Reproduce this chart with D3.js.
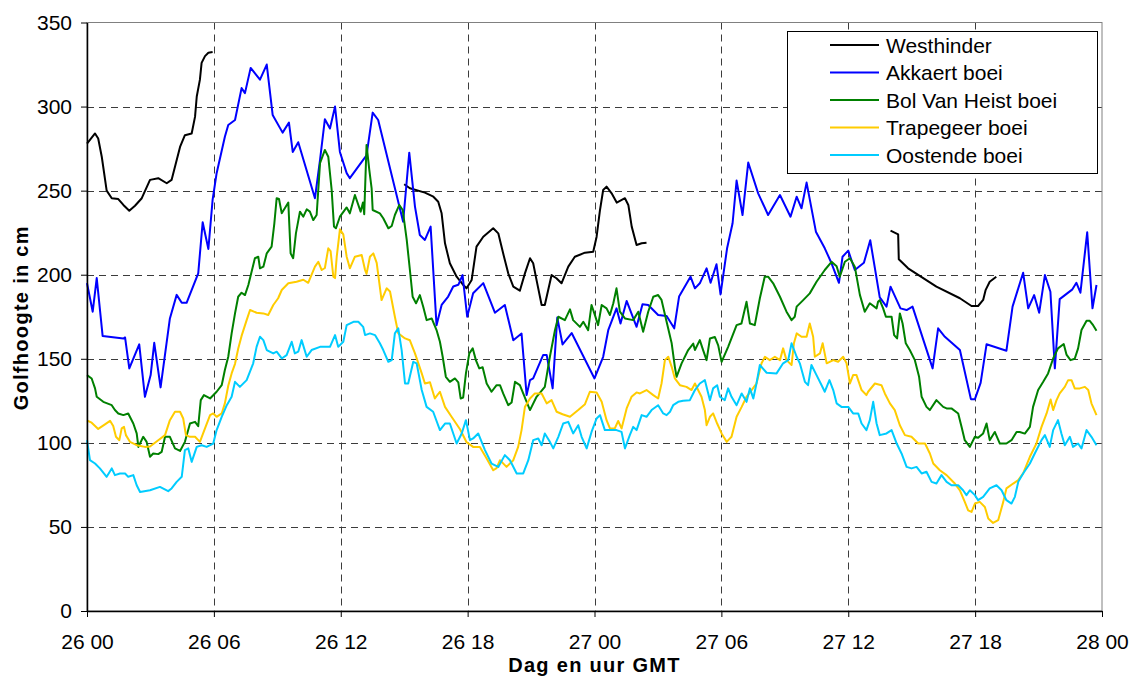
<!DOCTYPE html>
<html>
<head>
<meta charset="utf-8">
<script src="https://cdn.jsdelivr.net/npm/d3@7"></script>
<style>
  body { margin: 0; background: #fff; }
  svg { display: block; font-family: "Liberation Sans", Arial, sans-serif; }
</style>
</head>
<body>
<svg id="chart"></svg>
<script>
// x values are hours since 26 00 GMT, y values wave height in cm (null = no data)
const hourTicks = [0, 6, 12, 18, 24, 30, 36, 42, 48];
const hourLabels = ['26 00', '26 06', '26 12', '26 18', '27 00', '27 06', '27 12', '27 18', '28 00'];
const heightTicks = [0, 50, 100, 150, 200, 250, 300, 350];
const seriesNames = ['Westhinder', 'Akkaert boei', 'Bol Van Heist boei', 'Trapegeer boei', 'Oostende boei'];
const seriesColors = ['#000000', '#0000ff', '#008000', '#ffcc00', '#00ccff'];

const westhinder = [
  [0,278],[0.38,284],[0.53,281],[0.7,270],[0.93,250],[1.17,245.5],[1.48,245],[1.72,241.5],[2,238],
  [2.27,241],[2.59,245.5],[2.98,256.4],[3.37,257.4],[3.77,254.4],[4,256.4],[4.4,276],[4.63,283],
  [4.95,284],[5.11,294],[5.19,306],[5.34,316],[5.42,326],[5.58,330],[5.74,332],[5.94,332.4],
  [10,null],
  [15,253.8],[15.27,251.4],[15.98,248.8],[16.38,246.4],[16.61,243.4],[16.77,236.5],[16.93,218.7],
  [17.16,206.8],[17.48,198.8],[17.79,193.9],[17.95,191.9],[18.19,196.8],[18.42,216.7],[18.74,222.6],
  [19.21,227.6],[19.45,224.6],[19.68,212.7],[19.92,200.8],[20.16,192.9],[20.47,190.5],[20.71,200.8],
  [20.95,209.8],[21.1,206.8],[21.26,196.8],[21.5,182],[21.65,182],[21.97,199.8],[22.2,197.9],
  [22.44,194.9],[22.76,204.8],[23.07,210.7],[23.55,213.1],[23.94,213.7],[24.1,222.6],[24.26,238.5],
  [24.41,250.4],[24.57,252.4],[24.81,248.4],[25.05,242.9],[25.44,245.5],[25.6,241.5],[25.76,228.6],
  [25.99,217.7],[26.23,218.7],[26.46,219],
  [30,null],
  [38,226.2],[38.36,224],[38.39,209.2],[38.83,203.8],[40.17,192.9],[41.28,186],[41.83,181.4],
  [42.14,181.4],[42.38,185],[42.5,191],[42.69,195.8],[43,198.8]
];

const akkaert = [
  [0,195],[0.27,178],[0.46,198],[0.74,163.5],[1.72,162],[1.8,162.7],[2,144.3],[2.47,158.6],[2.74,127.4],
  [3.01,140.3],[3.18,159.5],[3.48,133],[3.92,174],[4.24,188],[4.48,183.3],[4.71,183.3],[5.26,200.8],
  [5.47,231.2],[5.74,215.3],[5.94,244.5],[6.13,260.4],[6.52,282],[6.68,289],[7,292],[7.31,311],
  [7.47,308],[7.74,323],[8.18,316],[8.5,325],[8.78,295],[9.25,284.5],[9.55,290.5],[9.73,273],
  [9.99,278.8],[10.78,245.5],[11.02,268.3],[11.25,292.5],[11.49,287],[11.73,300],[11.96,273],
  [12.28,260.4],[12.43,257.4],[13.06,268.3],[13.22,271],[13.51,296.4],[13.77,292],[14.95,231.5],
  [15.24,272.6],[15.51,240.5],[15.74,223.6],[15.98,220.7],[16.25,228.6],[16.53,170],[16.77,182],
  [17.08,187],[17.32,193],[17.56,194],[17.76,199.8],[17.98,175],[18.26,189],[18.74,195],[19.29,177.4],
  [19.76,182],[20.16,161],[20.55,165],[20.79,128.4],[20.95,137.3],[21.1,138.3],[21.57,152.2],
  [21.74,152.2],[22.02,132.4],[22.24,174.5],[22.49,158.5],[22.92,165.3],[24,138.3],[24.41,151.2],
  [24.65,167],[25.04,180],[25.23,171],[25.52,184.4],[25.99,169],[26.27,182.5],[26.54,182],[27.01,176],
  [27.41,175.5],[27.77,168.1],[28,187],[28.54,198.8],[28.75,191.9],[28.98,194.9],[29.3,203.8],
  [29.49,195.2],[29.77,206.2],[29.96,188.3],[30.27,215.7],[30.53,230.6],[30.72,256],[31,235.5],
  [31.27,266.7],[31.74,248.4],[32.21,235.5],[32.77,247.4],[33.27,234.5],[33.56,246.4],[33.79,239.5],
  [34.03,254.8],[34.47,225.6],[34.89,215.7],[35.21,206.8],[35.56,195.2],[35.73,210.7],[36,214.3],
  [36.31,202.8],[36.74,207.1],[37.04,220.5],[37.49,186.5],[37.81,181],[38,192.9],[38.47,180],
  [38.76,179],[39.04,181],[39.99,144.3],[40.25,168.1],[40.57,163.1],[41.28,155.2],[41.8,126],
  [41.99,126],[42.26,135.7],[42.54,158.6],[43.48,154.8],[43.77,181],[44.27,201.2],[44.51,180],
  [44.79,187.9],[45.03,177.4],[45.3,199.8],[45.56,189.9],[45.77,144.3],[46,185.5],[46.6,191.3],
  [46.79,195.2],[46.98,189.3],[47.3,225.2],[47.55,180],[47.74,193.9]
];

const bolVanHeist = [
  [0,140.3],[0.22,138.3],[0.38,132.4],[0.46,127.4],[0.77,124.4],[1.17,122.4],[1.32,119.5],[1.48,117.5],
  [1.72,116.5],[1.95,117.5],[2.19,111.5],[2.35,105.6],[2.43,97.6],[2.66,103.6],[2.82,100.6],[2.98,91.7],
  [3.13,93.7],[3.37,93.3],[3.53,94.6],[3.69,103.6],[3.92,103.6],[4.16,96.7],[4.4,95.2],[4.63,100.6],
  [4.87,111.5],[5.11,112.5],[5.26,109.9],[5.38,125.4],[5.53,128.4],[5.82,126.4],[6.13,130.4],
  [6.37,134.3],[6.52,143.3],[6.68,151.2],[6.84,165.1],[7,177],[7.15,186.9],[7.31,189.3],[7.47,187.9],
  [7.63,193.9],[7.94,209.8],[8.1,210.7],[8.18,203.8],[8.34,204.8],[8.5,212.7],[8.73,216.7],
  [8.86,230.6],[8.97,245.5],[9.08,245],[9.21,236.5],[9.52,242.9],[9.63,212.7],[9.75,209.8],
  [9.88,224.6],[10.07,237.5],[10.23,234.5],[10.39,238.9],[10.54,237.5],[10.7,232.5],[10.86,235.5],
  [11.02,266.3],[11.25,274.2],[11.41,270.2],[11.57,250.4],[11.68,228.6],[11.77,227.6],[11.96,234.5],
  [12.28,240],[12.43,236.5],[12.67,247.4],[12.94,237.5],[13.05,243],[13.11,236],[13.22,277.2],
  [13.35,262.3],[13.46,251.4],[13.51,238.5],[13.85,236.5],[14.01,233.6],[14.25,227.6],[14.41,229],
  [14.56,235.5],[14.77,241.5],[14.93,238.5],[15.12,220.7],[15.27,202.8],[15.4,186.9],[15.56,183],
  [15.74,187.9],[15.9,181],[16.06,173],[16.3,174],[16.53,167.1],[16.69,160.1],[16.82,151.2],
  [16.97,139.3],[17.16,136.3],[17.4,138.3],[17.56,136],[17.67,126.4],[17.79,127],[17.92,141.3],
  [18.08,153.2],[18.24,156.2],[18.39,149.2],[18.55,144.3],[18.71,145],[18.9,135.3],[19.13,130.4],
  [19.37,134.3],[19.53,134.3],[19.68,129.4],[19.92,122.4],[20.08,124],[20.24,136.3],[20.47,134.3],
  [20.95,119.5],[21.26,127.4],[21.65,133.3],[21.89,151.2],[22.13,167],[22.29,175],[22.6,173],
  [22.84,179.4],[22.99,173],[23.31,169],[23.47,172],[23.7,167],[23.86,182],[24.02,176],[24.17,170],
  [24.34,182],[24.57,180],[24.73,176],[24.89,183],[25.04,191.9],[25.2,178],[25.44,174],[25.83,173],
  [26.07,178],[26.3,166.1],[26.54,178],[26.78,186.9],[27.01,187.9],[27.17,185],[27.41,172],
  [27.65,159.2],[27.8,145.2],[27.88,139.3],[28.12,147.3],[28.43,155.2],[28.67,159],[28.75,155.2],
  [28.98,161.1],[29.14,155],[29.3,149.2],[29.46,162.1],[29.69,163],[29.85,158],[30.01,148.2],
  [30.32,157.1],[30.72,170],[30.95,171],[31.19,183.9],[31.35,171],[31.58,170],[31.82,186],
  [32.05,198.8],[32.21,198.8],[32.45,194.9],[32.77,186.9],[33.08,178],[33.32,173],[33.47,175],
  [33.56,181],[33.87,184.9],[34.18,188.9],[34.5,195.8],[34.89,202.8],[35.21,207.7],[35.45,205],
  [35.6,198.8],[35.84,207.7],[36.08,209.8],[36.31,204.8],[36.55,188],[36.78,178],[37.02,183],
  [37.34,180],[37.41,183.9],[37.49,184.9],[37.65,180],[37.78,175],[38.05,175],[38.17,164.1],
  [38.31,162.1],[38.44,177],[38.57,171],[38.72,159.2],[38.91,155.2],[39.15,149.2],[39.35,139.3],
  [39.47,127.4],[39.7,121.4],[39.86,119.5],[40.17,125.4],[40.49,121.4],[40.65,120.5],[40.88,120.5],
  [41.2,117.5],[41.36,109.5],[41.51,101.6],[41.75,97.6],[41.99,103.6],[42.14,103],[42.38,105.6],
  [42.54,111.5],[42.69,101.6],[42.93,106.5],[43.17,99.6],[43.48,99.6],[43.72,101.6],[43.96,106.5],
  [44.11,106.5],[44.35,105.5],[44.59,109.5],[44.74,121.4],[44.98,131.4],[45.22,136.3],[45.45,141.3],
  [45.69,150.2],[45.92,156.2],[46.19,158.8],[46.32,152.5],[46.51,149.2],[46.71,150],[46.87,156.2],
  [47.03,167.1],[47.27,172.6],[47.42,172.6],[47.58,170],[47.74,166.7]
];

const trapegeer = [
  [0,113.3],[0.22,112],[0.53,108.3],[0.85,111],[1.09,113.1],[1.24,110],[1.37,103.6],[1.53,101.6],
  [1.64,108.6],[1.75,109.5],[1.84,104.6],[2.03,100.6],[2.35,98.6],[2.74,97.6],[2.98,97.8],[3.37,101.6],
  [3.69,104.6],[3.92,113.5],[4.16,118.5],[4.4,118.5],[4.55,114.5],[4.68,104.6],[4.87,103.6],
  [5.11,103.6],[5.34,100.6],[5.58,108.6],[5.82,116.5],[5.97,117.5],[6.13,115.5],[6.37,117.5],
  [6.52,123.5],[6.68,134],[6.84,141.3],[7,147],[7.15,156],[7.31,163.6],[7.55,173],[7.71,179],
  [8.02,177.4],[8.34,177],[8.57,176],[8.81,182],[9.04,186],[9.21,190.9],[9.52,194.9],[9.91,195.8],
  [10.23,197],[10.46,195.2],[10.78,204.8],[10.94,207.7],[11.1,202.8],[11.25,204],[11.41,215.7],
  [11.52,214],[11.65,198.8],[11.73,198],[11.81,210.7],[11.96,227],[12.12,224],[12.28,210.7],
  [12.43,203.8],[12.67,210.7],[12.99,211.7],[13.15,202.8],[13.22,200.5],[13.38,210.7],[13.54,212.7],
  [13.7,207],[13.93,184.9],[14.17,191.9],[14.33,190],[14.56,175],[14.72,165.1],[15.04,162.1],
  [15.27,161],[15.51,153.2],[15.83,141.3],[15.98,135.3],[16.22,136],[16.45,126.4],[16.69,130.4],
  [16.93,121.4],[17.24,115.5],[17.64,108.1],[17.95,100.4],[18.26,97.6],[18.58,97.6],[18.9,90.7],
  [19.21,83.7],[19.37,85],[19.53,89.7],[19.84,85.7],[20.16,89.7],[20.39,97.6],[20.55,107.6],
  [20.71,121.4],[20.95,126.4],[21.18,129.4],[21.5,129.4],[21.74,123.5],[21.97,125.4],[22.21,118.5],
  [22.49,117],[22.84,115.5],[23.23,119.5],[23.55,123],[23.78,130.4],[24.1,130],[24.34,124.4],
  [24.57,113.5],[24.73,108.6],[24.96,108.6],[25.12,113],[25.28,108.6],[25.52,120.5],[25.75,127.4],
  [25.99,130],[26.15,129.4],[26.46,131.4],[26.78,128.4],[27.01,126.4],[27.17,135.3],[27.33,149.2],
  [27.49,151.2],[27.65,145.2],[27.8,138.3],[28.04,134.3],[28.35,133.3],[28.59,131.4],[28.75,135.3],
  [28.9,131.4],[29.06,127.4],[29.22,119.5],[29.3,110.5],[29.46,115.5],[29.61,117.5],[29.8,111.5],
  [30.01,105.6],[30.25,100.6],[30.48,103.6],[30.72,115.5],[30.96,121.4],[31.19,127.4],[31.43,131.4],
  [31.66,135.3],[31.9,147.3],[32.06,151.2],[32.29,149.2],[32.53,151.2],[32.77,149.2],[32.92,156.2],
  [33.08,149.2],[33.32,146.3],[33.43,159.2],[33.56,165.1],[33.79,163.1],[34.03,163.1],[34.18,171],
  [34.34,163.1],[34.42,151.2],[34.66,153.2],[34.79,159.2],[34.98,147.3],[35.29,149.2],[35.52,148.2],
  [35.76,151.2],[35.92,147.3],[36.08,135.3],[36.23,140.3],[36.39,140.3],[36.63,131.4],[36.86,128.4],
  [36.94,130.4],[37.26,135.3],[37.57,134.3],[37.73,129.4],[37.97,123.5],[38.2,119.5],[38.44,110.5],
  [38.68,104.6],[38.99,103.6],[39.31,99.6],[39.63,99.6],[39.86,93.7],[40.02,87.7],[40.33,83.7],
  [40.65,80.8],[41.04,75.8],[41.28,71.8],[41.51,64.9],[41.67,59.9],[41.83,58.9],[41.99,63.9],
  [42.22,64.9],[42.46,61.9],[42.62,55],[42.85,52.4],[43.09,54],[43.33,64.9],[43.48,72.9],[43.8,75.8],
  [44.04,77.8],[44.27,81.8],[44.59,91.7],[44.9,99.6],[45.14,109.5],[45.38,117.5],[45.57,125.8],
  [45.69,119.5],[45.85,125.4],[46,129.4],[46.24,133.3],[46.4,137.3],[46.56,137.3],[46.71,132.4],
  [46.95,132.4],[47.19,133.3],[47.35,131.4],[47.5,123.5],[47.74,116.5]
];

const oostende = [
  [0,101.6],[0.14,89.7],[0.38,87.7],[0.61,84.8],[0.93,79.8],[1.17,84.8],[1.32,80.8],[1.56,81.8],
  [1.8,81.8],[1.95,79.8],[2.19,80.8],[2.35,74.8],[2.51,70.8],[2.98,71.8],[3.45,73.8],[3.84,71.3],
  [4,72.9],[4.24,76.8],[4.48,79.8],[4.63,95.7],[4.79,96.7],[4.95,88.7],[5.19,97.6],[5.42,98.6],
  [5.66,97.6],[5.97,99.6],[6.13,107.6],[6.37,115.5],[6.61,122.4],[6.84,127.4],[7,136.3],[7.23,133.3],
  [7.55,137.3],[7.86,147.3],[8.02,157.1],[8.18,163.1],[8.34,161.1],[8.5,155.2],[8.81,153.2],
  [8.97,154.2],[9.21,150.2],[9.44,152.2],[9.68,160.1],[9.83,153.2],[9.99,154.2],[10.15,161.1],
  [10.39,151.2],[10.62,155.2],[11.02,157.1],[11.49,157.1],[11.73,164.1],[11.88,157.1],[12.12,160.1],
  [12.28,170],[12.6,172],[12.83,172],[13.06,169],[13.15,164.1],[13.38,165.1],[13.62,164.1],
  [13.85,159.2],[14.01,155.2],[14.25,148.2],[14.41,149.2],[14.56,165.1],[14.72,168.1],[14.88,155.2],
  [15.04,135.3],[15.19,135.3],[15.43,148.2],[15.59,147.3],[15.83,131.4],[16.06,121.4],[16.37,118.5],
  [16.69,107.6],[16.93,111.5],[17.16,111.5],[17.48,99.6],[17.72,105.6],[17.92,113.5],[18.11,101.6],
  [18.26,102.6],[18.5,105.6],[18.82,95.7],[19.13,87.7],[19.45,85.7],[19.76,92.7],[20,89.7],
  [20.08,87.7],[20.32,81.8],[20.63,81.8],[20.87,89.7],[21.1,101.6],[21.34,102.6],[21.5,98.6],
  [21.65,105.6],[21.89,100.6],[22.05,96.7],[22.29,103.6],[22.52,111.5],[22.76,112.5],[22.99,105.6],
  [23.23,110.5],[23.39,103.6],[23.63,96.7],[23.86,106.5],[24.1,114.5],[24.26,116.5],[24.49,107.6],
  [24.73,107.6],[25.04,107.6],[25.28,106.5],[25.44,96.7],[25.67,104.6],[25.83,109.5],[25.99,107.6],
  [26.23,116.5],[26.46,115.5],[26.7,119.5],[27.01,122.4],[27.25,117.5],[27.41,116.5],[27.57,118.5],
  [27.72,122.4],[27.96,124.4],[28.19,125],[28.51,125.4],[28.75,131.4],[28.98,135.3],[29.22,137.3],
  [29.46,125.4],[29.61,132.4],[29.8,134.3],[29.93,127.4],[30.16,125.4],[30.32,132.4],[30.48,127.4],
  [30.72,122.4],[30.96,129.4],[31.19,124.4],[31.35,132.4],[31.51,126.4],[31.66,135.3],[31.82,146.3],
  [32.14,141.7],[32.61,141.3],[32.92,147.3],[33.16,149.2],[33.32,159.2],[33.56,151.2],[33.71,147.3],
  [33.95,136.3],[34.1,134.3],[34.26,146.3],[34.5,140.3],[34.74,134.3],[34.89,130.4],[35.11,137.3],
  [35.29,131.4],[35.45,123.5],[35.68,121.4],[36,121.4],[36.23,117.5],[36.47,117.5],[36.63,111.5],
  [36.86,107.6],[37.02,113.5],[37.18,124.4],[37.34,111.5],[37.49,104.6],[37.81,105.6],[38.05,107.6],
  [38.29,99.6],[38.52,93.7],[38.76,85.7],[38.99,84.8],[39.23,85.7],[39.47,81.8],[39.7,82.8],
  [39.94,76.8],[40.17,75.8],[40.41,80.8],[40.65,76.8],[40.88,74.8],[41.2,74.8],[41.43,71.8],
  [41.59,68.9],[41.75,71.8],[41.99,68.9],[42.14,65.9],[42.38,67.9],[42.69,72.9],[43.01,74.8],
  [43.25,71.8],[43.48,65.9],[43.72,63.9],[43.88,67.9],[44.04,76.8],[44.27,81.8],[44.59,87.7],
  [44.82,93.7],[45.14,101.6],[45.3,104.6],[45.53,97.6],[45.69,107.6],[45.92,113.5],[46.08,105.6],
  [46.24,98.6],[46.48,103.6],[46.63,97.6],[46.87,99.6],[47.03,96.7],[47.27,107.6],[47.5,103.6],
  [47.74,98.6]
];

const seriesData = [westhinder, akkaert, bolVanHeist, trapegeer, oostende];

class WaveChart {
  constructor(svg) {
    this.width = 1134;
    this.height = 677;
    this.plot = {left: 87, right: 1102, top: 22.5, bottom: 611};
    this.svg = d3.select(svg)
      .attr('width', this.width)
      .attr('height', this.height);
  }

  draw() {
    const {left, right, top, bottom} = this.plot;

    const xScale = d3.scaleLinear()
      .domain([0, 48])
      .range([left, right]);

    const yScale = d3.scaleLinear()
      .domain([0, 350])
      .range([bottom, top]);

    // dashed grid
    const grid = this.svg.append('g')
      .attr('stroke', '#3c3c3c')
      .attr('stroke-width', 1)
      .attr('stroke-dasharray', '7,5');

    grid.selectAll('.hgrid')
      .data(heightTicks.filter(v => v > 0 && v < 350))
      .join('line')
      .attr('class', 'hgrid')
      .attr('x1', left)
      .attr('x2', right)
      .attr('y1', d => Math.round(yScale(d)) + 0.5)
      .attr('y2', d => Math.round(yScale(d)) + 0.5);

    grid.selectAll('.vgrid')
      .data(hourTicks.filter(h => h > 0 && h < 48))
      .join('line')
      .attr('class', 'vgrid')
      .attr('y1', top)
      .attr('y2', bottom)
      .attr('x1', d => Math.round(xScale(d)) + 0.5)
      .attr('x2', d => Math.round(xScale(d)) + 0.5);

    this.svg.append('rect')
      .attr('x', left)
      .attr('y', top)
      .attr('width', right - left)
      .attr('height', bottom - top)
      .attr('fill', 'none')
      .attr('stroke', '#808080');

    // series
    const line = d3.line()
      .defined(d => d[1] !== null)
      .x(d => xScale(d[0]))
      .y(d => yScale(d[1]));

    this.svg.append('g')
      .selectAll('path')
      .data(seriesData)
      .join('path')
      .attr('fill', 'none')
      .attr('stroke', (d, i) => seriesColors[i])
      .attr('stroke-width', 2)
      .attr('stroke-linejoin', 'round')
      .attr('d', line);

    // axes
    const xAxis = this.svg.append('g')
      .attr('transform', `translate(0, ${bottom})`)
      .call(d3.axisBottom(xScale)
        .tickValues(hourTicks)
        .tickFormat((d, i) => hourLabels[i])
        .tickSize(6)
        .tickSizeOuter(0)
        .tickPadding(17));

    const yAxis = this.svg.append('g')
      .attr('transform', `translate(${left}, 0)`)
      .call(d3.axisLeft(yScale)
        .tickValues(heightTicks)
        .tickSize(6)
        .tickSizeOuter(0)
        .tickPadding(9));

    [xAxis, yAxis].forEach(axis => {
      axis.attr('font-family', null).attr('font-size', null);
      axis.select('.domain').attr('stroke', '#000').attr('stroke-width', 1.5);
      axis.selectAll('.tick line').attr('stroke', '#000');
      axis.selectAll('.tick text')
        .attr('font-size', 21)
        .attr('fill', '#000');
    });

    // titles
    this.svg.append('text')
      .attr('x', (left + right) / 2)
      .attr('y', 672)
      .attr('text-anchor', 'middle')
      .attr('font-size', 20)
      .attr('font-weight', 'bold')
      .attr('letter-spacing', 1.3)
      .text('Dag en uur GMT');

    this.svg.append('text')
      .attr('transform', `translate(28, ${(top + bottom) / 2 + 1}) rotate(-90)`)
      .attr('text-anchor', 'middle')
      .attr('font-size', 20)
      .attr('font-weight', 'bold')
      .attr('letter-spacing', 1.3)
      .text('Golfhoogte in cm');

    // legend
    const legend = this.svg.append('g')
      .attr('transform', 'translate(787, 31)');

    legend.append('rect')
      .attr('x', 0.5)
      .attr('y', 0.5)
      .attr('width', 310)
      .attr('height', 142)
      .attr('fill', '#fff')
      .attr('stroke', '#000');

    const items = legend.selectAll('.item')
      .data(seriesNames)
      .join('g')
      .attr('class', 'item')
      .attr('transform', (d, i) => `translate(0, ${14 + i * 27.5})`);

    items.append('line')
      .attr('x1', 43)
      .attr('x2', 92)
      .attr('stroke', (d, i) => seriesColors[i])
      .attr('stroke-width', 2);

    items.append('text')
      .attr('x', 99)
      .attr('y', 7.5)
      .attr('font-size', 21)
      .text(d => d);
  }
}

new WaveChart(document.getElementById('chart')).draw();
</script>
</body>
</html>
